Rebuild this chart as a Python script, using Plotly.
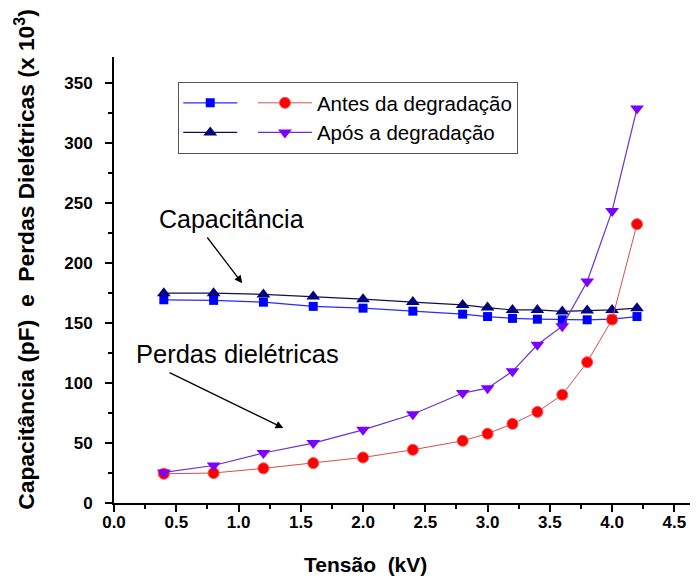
import plotly.graph_objects as go

tensao = [0.4, 0.8, 1.2, 1.6, 2.0, 2.4, 2.8, 3.0, 3.2, 3.4, 3.6, 3.8, 4.0, 4.2]
cap_antes = [169.5, 169, 167.5, 164, 162.5, 160, 157.5, 155.5, 154, 153.3, 152.8, 152.8, 153.3, 155.5]
cap_apos = [175, 175, 174, 172.2, 170, 167.6, 165.2, 163, 161, 161, 159.8, 160.5, 161, 162.5]
perdas_antes = [24.4, 25, 28.9, 33.3, 38, 44.4, 51.9, 57.8, 66, 76, 90.3, 117.5, 153, 232.6]
perdas_apos = [25.5, 31.3, 41.7, 50, 61, 74, 91.7, 95.8, 109.8, 132, 147.5, 184.7, 243.6, 329]

FONT = "Liberation Sans, Arial, sans-serif"

fig = go.Figure()
fig.add_trace(go.Scatter(x=tensao, y=cap_antes, mode="lines+markers", name=" ",
                         legendgroup="a",
                         line=dict(color="#2a2aff", width=1.2),
                         marker=dict(symbol="square", size=9, color="#0000ff")))
fig.add_trace(go.Scatter(x=tensao, y=cap_apos, mode="lines+markers", name=" ",
                         legendgroup="a",
                         line=dict(color="#101050", width=1.2),
                         marker=dict(symbol="triangle-up", size=12, color="#000080")))
fig.add_trace(go.Scatter(x=tensao, y=perdas_antes, mode="lines+markers", name="Antes da degradação",
                         legendgroup="b",
                         line=dict(color="#d05050", width=1),
                         marker=dict(symbol="circle", size=11, color="#ff0000",
                                     line=dict(color="#ff5050", width=1))))
fig.add_trace(go.Scatter(x=tensao, y=perdas_apos, mode="lines+markers", name="Após a degradação",
                         legendgroup="b",
                         line=dict(color="#6a30d0", width=1.2),
                         marker=dict(symbol="triangle-down", size=12, color="#7a00ff")))

fig.add_annotation(x=0.94, y=236.5, text="Capacitância", showarrow=False,
                   font=dict(family=FONT, size=25, color="black"))
fig.add_annotation(x=1.03, y=183.3, ax=0.74, ay=222.7, xref="x", yref="y", axref="x", ayref="y",
                   text="", showarrow=True, arrowhead=2, arrowsize=1.2, arrowwidth=1.3, arrowcolor="black")
fig.add_annotation(x=0.99, y=124, text="Perdas dielétricas", showarrow=False,
                   font=dict(family=FONT, size=25.5, color="black"))
fig.add_annotation(x=1.36, y=62.5, ax=0.434, ay=109.4, xref="x", yref="y", axref="x", ayref="y",
                   text="", showarrow=True, arrowhead=2, arrowsize=1.2, arrowwidth=1.3, arrowcolor="black")

nb = "\u00a0"
# axis titles
fig.add_annotation(x=0.43, y=-0.138, xref="paper", yref="paper", showarrow=False,
                   text="Tensão" + nb + nb + "(kV)", xanchor="center", yanchor="middle",
                   font=dict(family=FONT, size=21, color="black", weight="bold"))
fig.add_annotation(x=-0.151, y=0.545, xref="paper", yref="paper", showarrow=False, textangle=-90,
                   text="Capacitância (pF)" + nb + nb + "e" + nb + nb + "Perdas Dielétricas (x 10<sup>3</sup>)",
                   xanchor="center", yanchor="middle",
                   font=dict(family=FONT, size=22.8, color="black", weight="bold"))

# the page body adds an 8 px offset; margins compensate so the plot area lands where the reference has it
fig.update_layout(
    width=698, height=583,
    margin=dict(l=106, r=8, t=49, b=88),
    paper_bgcolor="white", plot_bgcolor="white",
    font=dict(family=FONT, color="black"),
    showlegend=True,
    legend=dict(orientation="h", traceorder="grouped", x=0.11, y=0.944,
                xanchor="left", yanchor="top", tracegroupgap=10, itemwidth=54,
                bordercolor="#555555", borderwidth=1, bgcolor="white",
                font=dict(family=FONT, size=20.5, color="black")),
    xaxis=dict(range=[0, 4.69], dtick=0.5, tickformat=".1f", automargin=False, ticklabelstandoff=-4,
               showline=True, linecolor="black", linewidth=2,
               ticks="outside", ticklen=7, tickwidth=2, tickcolor="black",
               minor=dict(dtick=0.25, ticks="outside", ticklen=4, tickwidth=1.5, tickcolor="black"),
               showgrid=False, zeroline=False,
               tickfont=dict(family=FONT, size=17, color="black", weight="bold")),
    yaxis=dict(range=[0, 372], dtick=50, automargin=False, ticklabelstandoff=9,
               showline=True, linecolor="black", linewidth=2,
               ticks="outside", ticklen=7, tickwidth=2, tickcolor="black",
               minor=dict(dtick=25, ticks="outside", ticklen=4, tickwidth=1.5, tickcolor="black"),
               showgrid=False, zeroline=False,
               tickfont=dict(family=FONT, size=17, color="black", weight="bold")),
)

fig.write_html("out.html")
